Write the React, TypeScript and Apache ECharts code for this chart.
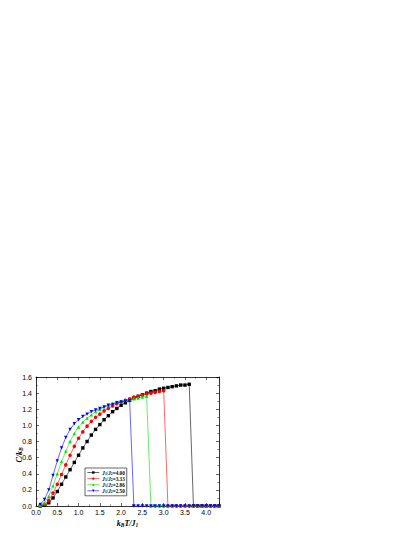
import React, { useEffect, useRef } from "react";
import * as echarts from "echarts";

// Temperatures k_B T / J1
const TEMPS = [0.1, 0.2, 0.3, 0.4, 0.5, 0.6, 0.7, 0.8, 0.9, 1.0, 1.1, 1.2, 1.3, 1.4, 1.5, 1.6, 1.7, 1.8, 1.9, 2.0, 2.1, 2.2, 2.3, 2.4, 2.5, 2.6, 2.7, 2.8, 2.9, 3.0, 3.1, 3.2, 3.3, 3.4, 3.5, 3.6, 3.7, 3.8, 3.9, 4.0, 4.1, 4.2, 4.3];

// C / k_B for each J1/J2
const C_400 = [0, 0.01, 0.04, 0.10, 0.18, 0.27, 0.36, 0.45, 0.54, 0.63, 0.72, 0.80, 0.88, 0.95, 1.01, 1.07, 1.12, 1.17, 1.21, 1.25, 1.28, 1.31, 1.34, 1.36, 1.38, 1.40, 1.42, 1.43, 1.45, 1.46, 1.47, 1.48, 1.49, 1.50, 1.50, 1.51, 0, 0, 0, 0, 0, 0, 0];
const C_333 = [0, 0.02, 0.07, 0.16, 0.27, 0.39, 0.51, 0.63, 0.74, 0.84, 0.92, 0.99, 1.05, 1.10, 1.14, 1.18, 1.21, 1.24, 1.27, 1.29, 1.31, 1.33, 1.35, 1.36, 1.38, 1.39, 1.40, 1.41, 1.42, 1.43, 0, 0, 0, 0, 0, 0, 0, 0, 0, 0, 0, 0, 0];
const C_286 = [0.01, 0.04, 0.12, 0.25, 0.40, 0.55, 0.68, 0.80, 0.90, 0.98, 1.04, 1.09, 1.13, 1.17, 1.20, 1.23, 1.25, 1.27, 1.29, 1.30, 1.31, 1.32, 1.33, 1.34, 1.35, 1.36, 0, 0, 0, 0, 0, 0, 0, 0, 0, 0, 0, 0, 0, 0, 0, 0, 0];
const C_250 = [0.02, 0.08, 0.20, 0.38, 0.56, 0.72, 0.85, 0.95, 1.02, 1.07, 1.11, 1.14, 1.17, 1.19, 1.21, 1.23, 1.25, 1.26, 1.28, 1.29, 1.30, 1.31, 0, 0, 0, 0, 0, 0, 0, 0, 0, 0, 0, 0, 0, 0, 0, 0, 0, 0, 0, 0, 0];

const SERIES_NAMES = ["4.00", "3.33", "2.86", "2.50"];
const SERIES_VALUES = [C_400, C_333, C_286, C_250];
const SERIES_COLORS = ["#000000", "#ff0000", "#00e000", "#0000ff"];
const SERIES_SYMBOLS = ["rect", "circle", "triangle", "triangle"];
const SERIES_ROTATE = [0, 0, 0, 180];

const X_TICK_INTERVAL = 0.5;
const Y_TICK_INTERVAL = 0.2;

const serif = "Liberation Serif";
const sans = "Liberation Sans";

export default function App() {
  const ref = useRef<HTMLDivElement>(null);

  useEffect(() => {
    if (!ref.current) return;
    const chart = echarts.init(ref.current, undefined, { renderer: "svg" });

    const axisLine = { show: true, onZero: false, lineStyle: { color: "#000", width: 0.8 } };
    const axisTick = { show: true, inside: true, length: 3, lineStyle: { color: "#000", width: 0.6 } };
    const minorTick = { show: true, splitNumber: 2, length: 1.6, lineStyle: { color: "#000", width: 0.5 } };

    const nameRich = {
      i: { fontFamily: serif, fontStyle: "italic", fontWeight: "bold", fontSize: 8, color: "#000" },
      s: { fontFamily: serif, fontStyle: "italic", fontWeight: "bold", fontSize: 5.5, color: "#000", verticalAlign: "bottom", padding: [3, 0, 0, 0] },
    };

    const legendRich = {
      i: { fontFamily: serif, fontStyle: "italic", fontWeight: "bold", fontSize: 5.2, color: "#000" },
      s: { fontFamily: serif, fontWeight: "bold", fontSize: 3.8, color: "#000", verticalAlign: "bottom", padding: [2, 0, 0, 0] },
      n: { fontFamily: serif, fontWeight: "bold", fontSize: 5.2, color: "#000" },
    };

    const series = SERIES_NAMES.map((name, k) => ({
      name,
      type: "line",
      xAxisIndex: 0,
      yAxisIndex: 0,
      data: TEMPS.map((t, i) => [t, SERIES_VALUES[k][i]]),
      symbol: SERIES_SYMBOLS[k],
      symbolRotate: SERIES_ROTATE[k],
      symbolSize: k === 1 ? 3.6 : 3.4,
      showAllSymbol: true,
      lineStyle: { color: SERIES_COLORS[k], width: 0.6 },
      itemStyle: { color: SERIES_COLORS[k] },
      emphasis: { disabled: true },
      z: 2 + k,
    }));

    const option = {
      animation: false,
      grid: { left: 36, right: 196, top: 377, bottom: 31, containLabel: false },
      xAxis: [
        {
          type: "value",
          min: 0,
          max: 4.3,
          interval: X_TICK_INTERVAL,
          position: "bottom",
          axisLine,
          axisTick,
          minorTick,
          splitLine: { show: false },
          axisLabel: {
            fontSize: 7,
            fontFamily: sans,
            color: "#000",
            margin: 3,
            showMaxLabel: false,
            formatter: (v: number) => v.toFixed(1),
          },
          name: "{i|k}{s|B}{i|T/J}{s|1}",
          nameLocation: "middle",
          nameGap: 13,
          nameTextStyle: { rich: nameRich },
        },
        {
          type: "value",
          min: 0,
          max: 4.3,
          interval: X_TICK_INTERVAL,
          position: "top",
          axisLine,
          axisTick,
          minorTick,
          splitLine: { show: false },
          axisLabel: { show: false },
        },
      ],
      yAxis: [
        {
          type: "value",
          min: 0,
          max: 1.6,
          interval: Y_TICK_INTERVAL,
          position: "left",
          axisLine,
          axisTick,
          minorTick,
          splitLine: { show: false },
          axisLabel: {
            fontSize: 7,
            fontFamily: sans,
            color: "#000",
            margin: 4,
            formatter: (v: number) => v.toFixed(1),
          },
        },
        {
          type: "value",
          min: 0,
          max: 1.6,
          interval: Y_TICK_INTERVAL,
          position: "right",
          axisLine,
          axisTick,
          minorTick,
          splitLine: { show: false },
          axisLabel: { show: false },
        },
      ],
      legend: {
        orient: "vertical",
        left: 85,
        top: 468,
        itemWidth: 12,
        itemHeight: 3,
        itemGap: 0.6,
        padding: [2, 2, 2, 2],
        borderColor: "#000",
        borderWidth: 0.6,
        backgroundColor: "#fff",
        selectedMode: false,
        lineStyle: { width: 0.6 },
        itemStyle: { borderWidth: 0 },
        textStyle: { fontSize: 5.2, fontFamily: serif, fontWeight: "bold", color: "#000", rich: legendRich, padding: [0, 0, 0, -2] },
        formatter: (name: string) => `{i|J}{s|1}{n|/}{i|J}{s|2}{n|=${name}}`,
        data: SERIES_NAMES,
      },
      graphic: [
        {
          type: "text",
          x: 19,
          y: 455,
          rotation: Math.PI / 2,
          style: {
            text: "{i|C/k}{s|B}",
            rich: nameRich,
            align: "center",
            verticalAlign: "middle",
          },
        },
      ],
      series,
    };

    chart.setOption(option as any);
    return () => chart.dispose();
  }, []);

  return (
    <div
      ref={ref}
      style={{ position: "absolute", left: 0, top: 0, width: 415, height: 537, background: "#fff" }}
    />
  );
}
